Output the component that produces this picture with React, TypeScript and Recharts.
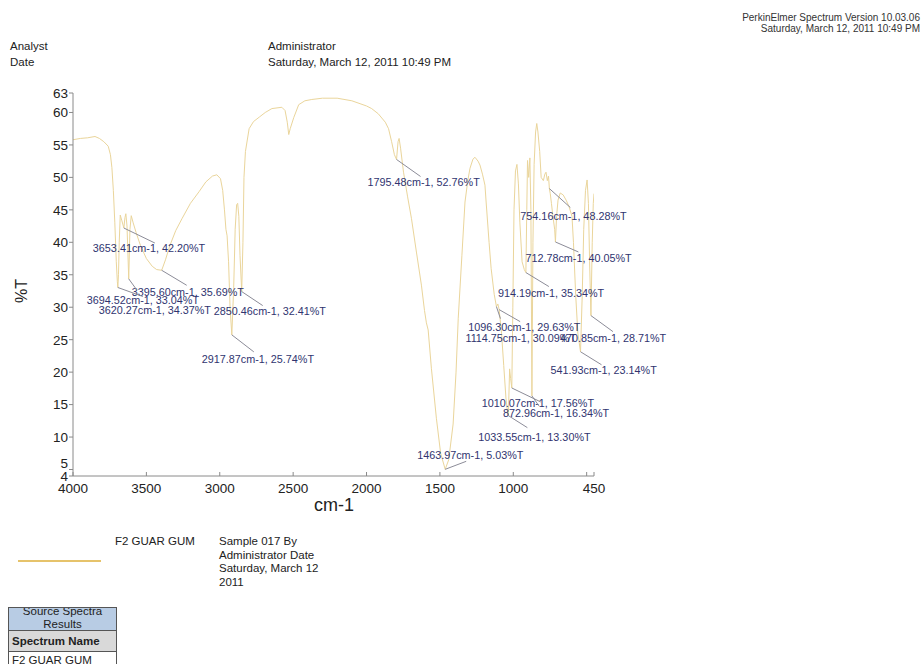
import { LineChart, Line, XAxis, YAxis, ReferenceDot } from "recharts";

// F2 guar gum FT-IR scan, %T against wavenumber (cm-1)
const wavenumbers = [
  4000, 3950, 3900, 3850, 3820, 3790, 3760, 3745, 3735, 3725, 3715, 3705, 3698, 3694.52, 3690, 3685,
  3678, 3668, 3653.41, 3646, 3640, 3632, 3620.27, 3612, 3603, 3590, 3570, 3540, 3500, 3460, 3430,
  3395.6, 3370, 3340, 3300, 3256, 3200, 3141, 3095, 3050, 3020, 2995, 2980, 2968, 2958, 2950, 2940,
  2930, 2917.87, 2905, 2895, 2885, 2878, 2870, 2862, 2850.46, 2842, 2835, 2825, 2800, 2770, 2730,
  2690, 2645, 2577, 2555, 2540, 2530, 2520, 2496, 2462, 2420, 2373, 2300, 2200, 2100, 2000, 1965,
  1920, 1872, 1850, 1829, 1810, 1795.48, 1785, 1778, 1768, 1748, 1720, 1694, 1660, 1626, 1605, 1592,
  1580, 1558, 1524, 1495, 1463.97, 1440, 1410, 1390, 1375, 1350, 1329, 1310, 1295, 1275, 1261, 1240,
  1227, 1210, 1193, 1185, 1165, 1151, 1130, 1114.75, 1105, 1096.3, 1080, 1065, 1050, 1040, 1033.55,
  1025, 1018, 1010.07, 1003, 995, 985, 975, 965, 955, 940, 925, 914.19, 908, 903, 895, 887, 880,
  872.96, 866, 858, 848, 840, 832, 820, 810, 795, 785, 777, 768, 760, 754.16, 748, 740, 730, 718,
  712.78, 705, 695, 680, 660, 640, 620, 600, 590, 575, 560, 541.93, 530, 520, 508, 497, 488, 480,
  470.85, 462, 455, 450,
];

const transmittance = [
  55.8, 56.0, 56.1, 56.3, 56.0, 55.5, 54.8, 53.5, 51.5, 48.0, 43.0, 37.0, 34.0, 33.04, 35.0, 40.0,
  44.2, 43.4, 42.2, 43.8, 44.4, 42.5, 34.37, 42.0, 44.1, 43.0, 41.5, 39.5, 37.5, 36.3, 35.8,
  35.69, 37.3, 39.5, 41.8, 43.7, 46.0, 47.8, 49.3, 50.2, 50.4, 49.8, 48.0, 45.0, 42.0, 41.0, 37.0,
  30.0, 25.74, 33.0, 42.0, 45.8, 46.0, 44.0, 38.0, 32.41, 40.0, 50.0, 54.0, 57.5, 58.6, 59.3,
  60.0, 60.6, 60.8, 60.3, 58.5, 56.6, 57.5, 59.2, 61.2, 61.8, 62.0, 62.2, 62.2, 61.8, 61.0, 60.6,
  59.8, 58.5, 57.5, 55.5, 53.5, 52.76, 55.5, 56.0, 54.5, 50.8, 47.0, 43.7, 38.5, 33.4, 29.5, 27.6,
  26.5, 20.6, 12.9, 7.5, 5.03, 6.5, 12.0, 20.0, 28.3, 38.0, 46.2, 49.5, 51.4, 52.8, 53.1, 52.5,
  51.9, 50.5, 48.8, 46.2, 40.0, 36.0, 32.0, 30.09, 30.5, 29.63, 26.0, 21.0, 16.0, 14.0, 13.3,
  20.5, 19.0, 17.56, 30.0, 45.0, 51.0, 52.0, 49.0, 43.0, 37.0, 35.8, 35.34, 45.0, 52.6, 50.0, 53.0, 45.0,
  16.34, 40.0, 52.0, 57.0, 58.3, 57.0, 54.0, 50.0, 49.5, 50.5, 50.8, 49.5, 50.2, 48.28, 47.5, 46.0, 44.0, 42.0,
  40.05, 44.0, 46.5, 47.6, 47.3, 46.5, 45.5, 44.0, 40.0, 32.0, 26.0, 23.14, 32.0, 42.0, 48.0, 49.6, 46.0, 37.0,
  28.71, 40.0, 46.0, 47.5,
];

// labelled peaks
const peakWavenumbers = [
  3653.41, 3395.6, 3694.52, 3620.27, 2850.46, 2917.87, 1795.48, 754.16, 712.78, 914.19, 1096.3,
  1114.75, 470.85, 541.93, 1010.07, 872.96, 1033.55, 1463.97,
];
const peakTransmittance = [
  42.2, 35.69, 33.04, 34.37, 32.41, 25.74, 52.76, 48.28, 40.05, 35.34, 29.63,
  30.09, 28.71, 23.14, 17.56, 16.34, 13.3, 5.03,
];

// leader end (dx, dy) and text origin (tx, ty) relative to each peak, in px
const calloutOffsets = [
  [31, 15, -31, 24], [25, 15, -30, 26], [25, 9, -31, 17], [8, 11, -30, 35], [21, 14, -28, 23],
  [22, 17, -30, 28], [24, 17, -29, 27], [21, 19, -29, 31], [23, 10, -30, 20], [23, 14, -28, 24],
  [21, 12, -31, 21], [4, 12, -31, 35], [22, 16, -31, 26], [21, 13, -30, 22], [29, 14, -30, 19],
  [7, 10, -29, 21], [19, 12, -30, 25], [21, -8, -28, -10],
];

const xTicks = [4000, 3500, 3000, 2500, 2000, 1500, 1000, 500, 450];
const yTicks = [4, 5, 10, 15, 20, 25, 30, 35, 40, 45, 50, 55, 60, 63];

const spectrum = wavenumbers.map((wn, i) => ({ wn, t: transmittance[i] }));

const FONT = '"Liberation Sans", Arial, sans-serif';
const AXIS = "#8a8a8a";
const CALLOUT = "#30346f";

function XTick({ x, y, payload }: any) {
  return (
    <g>
      <line x1={x} x2={x} y1={y} y2={y - 4} stroke={AXIS} />
      {payload.value !== 500 && (
        <text x={x} y={y + 17} textAnchor="middle" fontSize={13.5} fill="#222" fontFamily={FONT}>
          {payload.value}
        </text>
      )}
    </g>
  );
}

function YTick({ x, y, payload }: any) {
  const lift = payload.value === 5 ? -6 : 0;
  return (
    <text x={x} y={y + lift} dy="0.36em" textAnchor="end" fontSize={13.5} fill="#222" fontFamily={FONT}>
      {payload.value}
    </text>
  );
}

function Callout({ cx, cy, offset, text }: any) {
  const [dx, dy, tx, ty] = offset;
  return (
    <g>
      <line x1={cx} y1={cy} x2={cx + dx} y2={cy + dy} stroke="#8c8c98" strokeWidth={1} />
      <text x={cx + tx} y={cy + ty} fontSize={10.8} fill={CALLOUT} fontFamily={FONT}>
        {text}
      </text>
    </g>
  );
}

const abs = (left: number, top: number, extra: any = {}) => ({
  position: "absolute" as const,
  left,
  top,
  fontFamily: FONT,
  whiteSpace: "nowrap" as const,
  lineHeight: 1,
  ...extra,
});

export default function App() {
  return (
    <div style={{ position: "absolute", left: 0, top: 0, width: 922, height: 664, background: "#fff", overflow: "hidden" }}>
      <div style={abs(0, 12, { width: 920, textAlign: "right", fontSize: 10, color: "#333", lineHeight: "11px" })}>
        PerkinElmer Spectrum Version 10.03.06
        <br />
        Saturday, March 12, 2011 10:49 PM
      </div>
      <div style={abs(10, 41, { fontSize: 11.5, color: "#222" })}>Analyst</div>
      <div style={abs(10, 57, { fontSize: 11.5, color: "#222" })}>Date</div>
      <div style={abs(268, 41, { fontSize: 11.5, color: "#222" })}>Administrator</div>
      <div style={abs(268, 57, { fontSize: 11.5, color: "#222" })}>Saturday, March 12, 2011 10:49 PM</div>

      <div style={{ position: "absolute", left: 0, top: 0 }}>
        <LineChart width={922} height={664} data={spectrum} margin={{ top: 93, right: 328, bottom: 158, left: 33 }}>
          <XAxis
            dataKey="wn"
            type="number"
            domain={[450, 4000]}
            reversed
            ticks={xTicks}
            interval={0}
            height={30}
            tickSize={0}
            tickMargin={0}
            tickLine={false}
            tick={<XTick />}
            stroke={AXIS}
            allowDataOverflow
          />
          <YAxis
            type="number"
            domain={[4, 63]}
            ticks={yTicks}
            interval={0}
            width={40}
            tickSize={4}
            tickMargin={1}
            tick={<YTick />}
            stroke={AXIS}
            allowDataOverflow
          />
          <Line dataKey="t" type="linear" stroke="#ead59b" strokeWidth={1} dot={false} isAnimationActive={false} />
          {peakWavenumbers.map((wn, i) => (
            <ReferenceDot
              key={wn}
              x={wn}
              y={peakTransmittance[i]}
              r={0}
              ifOverflow="visible"
              shape={(props: any) => (
                <Callout
                  cx={props.cx}
                  cy={props.cy}
                  offset={calloutOffsets[i]}
                  text={`${wn.toFixed(2)}cm-1, ${peakTransmittance[i].toFixed(2)}%T`}
                />
              )}
            />
          ))}
        </LineChart>
      </div>

      <div style={abs(10, 283, { fontSize: 16, color: "#222", transform: "rotate(-90deg)", transformOrigin: "center" })}>%T</div>
      <div style={abs(314, 496, { fontSize: 18, color: "#222" })}>cm-1</div>

      <div style={{ position: "absolute", left: 18, top: 560, width: 83, height: 2, background: "#e6c36b" }} />
      <div style={abs(115, 536, { fontSize: 11.5, color: "#222" })}>F2 GUAR GUM</div>
      <div style={abs(219, 535, { fontSize: 11.5, color: "#222", lineHeight: "13.5px" })}>
        Sample 017 By
        <br />
        Administrator Date
        <br />
        Saturday, March 12
        <br />
        2011
      </div>

      <div style={{ position: "absolute", left: 8, top: 607, width: 107, fontFamily: FONT, fontSize: 11.5, color: "#222", border: "1px solid #555", borderBottom: "none" }}>
        <div style={{ background: "#b8cce4", height: 22, overflow: "hidden", textAlign: "center", lineHeight: "12.5px", marginTop: 0 }}>
          <div style={{ marginTop: -3 }}>Source Spectra</div>
          <div>Results</div>
        </div>
        <div style={{ background: "#d9d9d9", height: 20, lineHeight: "20px", paddingLeft: 3, fontWeight: "bold", borderTop: "1px solid #555" }}>
          Spectrum Name
        </div>
        <div style={{ background: "#fff", height: 20, lineHeight: "16px", paddingLeft: 3, borderTop: "1px solid #555" }}>
          F2 GUAR GUM
        </div>
      </div>
    </div>
  );
}
